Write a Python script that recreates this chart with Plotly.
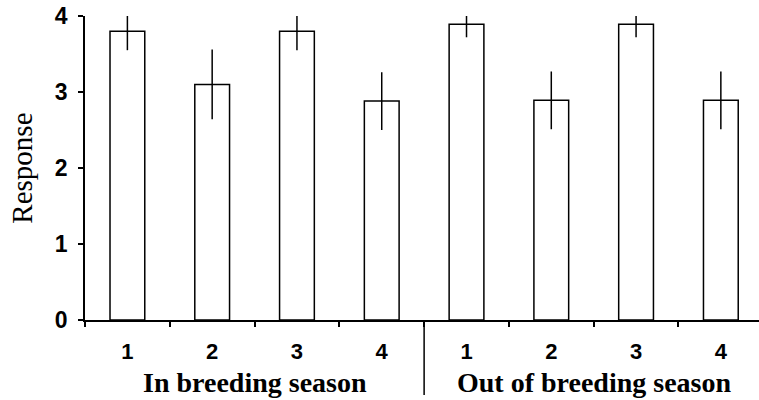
import plotly.graph_objects as go

# response per condition, two seasons x four conditions
conditions = ["1", "2", "3", "4", "1", "2", "3", "4"]
responses = [3.8, 3.1, 3.8, 2.88, 3.89, 2.89, 3.89, 2.89]
errors = [0.25, 0.46, 0.25, 0.38, 0.17, 0.38, 0.17, 0.38]
groups = ["In breeding season", "Out of breeding season"]
y_ticks = [0, 1, 2, 3, 4]

xpos = list(range(len(conditions)))

fig = go.Figure()
fig.add_trace(go.Bar(
    x=xpos, y=responses, width=0.41,
    marker=dict(color="white", line=dict(color="black", width=1.5)),
    error_y=dict(type="data", array=errors, color="black", thickness=1.5, width=0),
    cliponaxis=False, showlegend=False,
))

# vertical separator between the two seasons
fig.add_shape(type="line", xref="x", yref="paper", x0=3.5, x1=3.5, y0=0, y1=-0.247,
              line=dict(color="black", width=1.5))

# season labels centred under each group of four
for i, g in enumerate(groups):
    fig.add_annotation(x=1.5 + 4 * i, y=-0.205, xref="x", yref="paper", text=g,
                       showarrow=False, yanchor="middle",
                       font=dict(family="Liberation Serif", size=28, color="black", weight="bold"))

fig.add_annotation(x=-0.094, y=0.5, xref="paper", yref="paper", text="Response",
                   textangle=-90, showarrow=False, xanchor="center", yanchor="middle",
                   font=dict(family="Liberation Serif", size=29, color="black"))

fig.update_xaxes(
    range=[-0.5, 7.45], tickmode="array", tickvals=xpos, ticktext=conditions,
    ticks="", ticklabelstandoff=11, showline=True, linecolor="black", linewidth=1.5,
    showgrid=False, zeroline=False, automargin=False,
    tickfont=dict(family="Liberation Sans", size=22, color="black", weight="bold"),
    minor=dict(tickmode="linear", tick0=-0.5, dtick=1, ticks="outside", ticklen=5,
               tickwidth=1.5, tickcolor="black", showgrid=False),
)
fig.update_yaxes(
    range=[0, 4], tickvals=y_ticks, ticks="outside", ticklen=5, tickwidth=1.5,
    tickcolor="black", ticklabelstandoff=6, showline=True, linecolor="black", linewidth=1.5,
    showgrid=False, zeroline=False, automargin=False,
    tickfont=dict(family="Liberation Sans", size=23, color="black", weight="bold"),
)
fig.update_layout(
    width=759, height=400, margin=dict(l=85, r=0, t=16, b=80),
    plot_bgcolor="white", paper_bgcolor="white",
)
# page body has a default 8px margin; drop it so the figure sits at the corner
fig.write_html("out.html", config={"displayModeBar": False},
               post_script="document.body.style.margin='0';")
